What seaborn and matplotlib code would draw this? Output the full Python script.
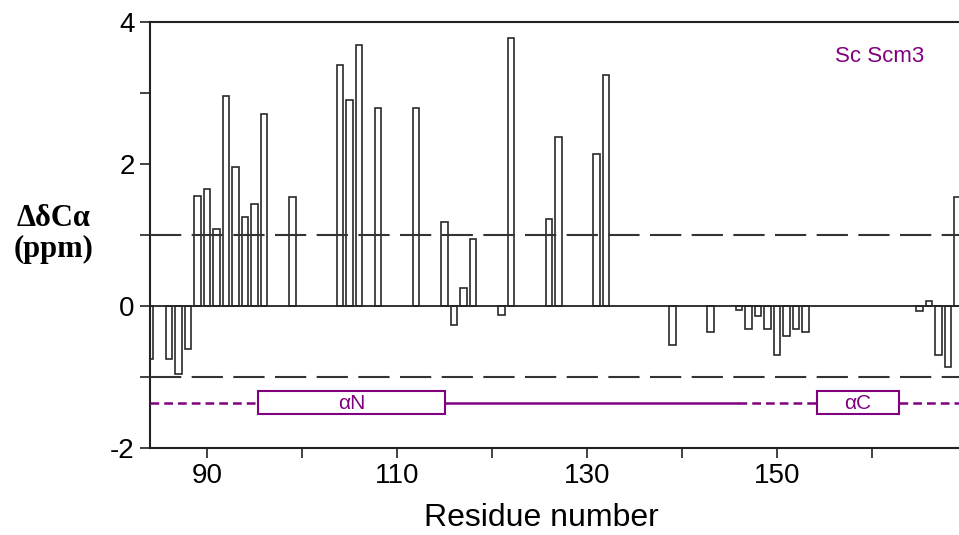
import matplotlib
matplotlib.use('Agg')
import matplotlib.pyplot as plt
from matplotlib.patches import Rectangle
import seaborn as sns

# residue numbers and Calpha chemical shift differences (ppm)
residues = [84, 86, 87, 88, 89, 90, 91, 92, 93, 94, 95, 96, 99,
            104, 105, 106, 108, 112, 115, 116, 117, 118,
            121, 122, 126, 127, 131, 132,
            139, 143, 146, 147, 148, 149, 150, 151, 152, 153,
            165, 166, 167, 168, 169]
delta_ca = [-0.74, -0.74, -0.96, -0.61, 1.55, 1.65, 1.09, 2.96, 1.96, 1.25, 1.43, 2.70, 1.54,
            3.40, 2.90, 3.67, 2.79, 2.79, 1.18, -0.27, 0.25, 0.95,
            -0.12, 3.77, 1.22, 2.38, 2.14, 3.25,
            -0.55, -0.37, -0.06, -0.33, -0.14, -0.33, -0.69, -0.42, -0.33, -0.36,
            -0.07, 0.07, -0.69, -0.86, 1.53]

thresholds = [1, -1]

# secondary structure track
ss_level = -1.36
helix_labels = ["αN", "αC"]
helix_start = [95.4, 154.2]
helix_end = [115.0, 162.8]
solid_segments = [(115.0, 145.9)]
dashed_segments = [(84.0, 95.4), (145.9, 154.2), (162.8, 169.5)]

PURPLE = '#800080'

sns.set_style('ticks')
plt.rcParams['font.family'] = ['Liberation Sans', 'DejaVu Sans']
plt.rcParams['axes.unicode_minus'] = False

fig = plt.figure(figsize=(9.59, 5.35), dpi=100)
ax = fig.add_axes([150 / 959, 87 / 535, 812 / 959, 426 / 535])

sns.barplot(x=residues, y=delta_ca, native_scale=True, width=0.7,
            color='white', saturation=1, edgecolor='#2a2a2a', linewidth=1.2,
            errorbar=None, ax=ax, zorder=2)

ax.axhline(0, color='#222222', lw=1.3, zorder=3)
for t in thresholds:
    ax.axhline(t, color='#333333', lw=1.5, dashes=(15, 5), zorder=3)

# secondary structure
for a, b in solid_segments:
    ax.plot([a, b], [ss_level, ss_level], color=PURPLE, lw=1.8, zorder=3)
for a, b in dashed_segments:
    ax.plot([a, b], [ss_level, ss_level], color=PURPLE, lw=1.8, dashes=(3.5, 2), zorder=3)
for lab, s, e in zip(helix_labels, helix_start, helix_end):
    ax.add_patch(Rectangle((s, ss_level - 0.163), e - s, 0.326, facecolor='white',
                           edgecolor=PURPLE, lw=1.5, zorder=4))
    ax.text((s + e) / 2, ss_level - 0.01, lab, color=PURPLE, fontsize=15,
            ha='center', va='center', zorder=5)

ax.set_xlim(84, 169.47)
ax.set_ylim(-2, 4)
ax.set_xticks([90, 110, 130, 150])
ax.set_xticks([100, 120, 140, 160], minor=True)
ax.set_yticks([-2, 0, 2, 4])
ax.set_yticks([-1, 1, 3], minor=True)
ax.tick_params(which='both', direction='out', length=7, width=1.2, color='#222222')
ax.tick_params(which='major', labelsize=20, pad=4, labelcolor='black')
for s in ['left', 'bottom', 'top']:
    ax.spines[s].set_linewidth(1.5)
    ax.spines[s].set_color('#222222')
ax.spines['right'].set_visible(False)
ax.set_xlabel('')
ax.set_ylabel('')

fig.text(541 / 959, 1 - 526 / 535, 'Residue number', fontsize=23, color='black',
         ha='center', va='baseline')
fig.text(54 / 959, 1 - 226 / 535, 'ΔδCα', fontsize=22, ha='center', va='baseline',
         family=['Liberation Serif', 'DejaVu Serif'], weight='bold', color='black')
fig.text(54 / 959, 1 - 257 / 535, '(ppm)', fontsize=22, ha='center', va='baseline',
         family=['Liberation Serif', 'DejaVu Serif'], weight='bold', color='black')
fig.text(835 / 959, 1 - 61.7 / 535, 'Sc Scm3', fontsize=16, color=PURPLE,
         ha='left', va='baseline')

fig.savefig('out.png', dpi=100)
